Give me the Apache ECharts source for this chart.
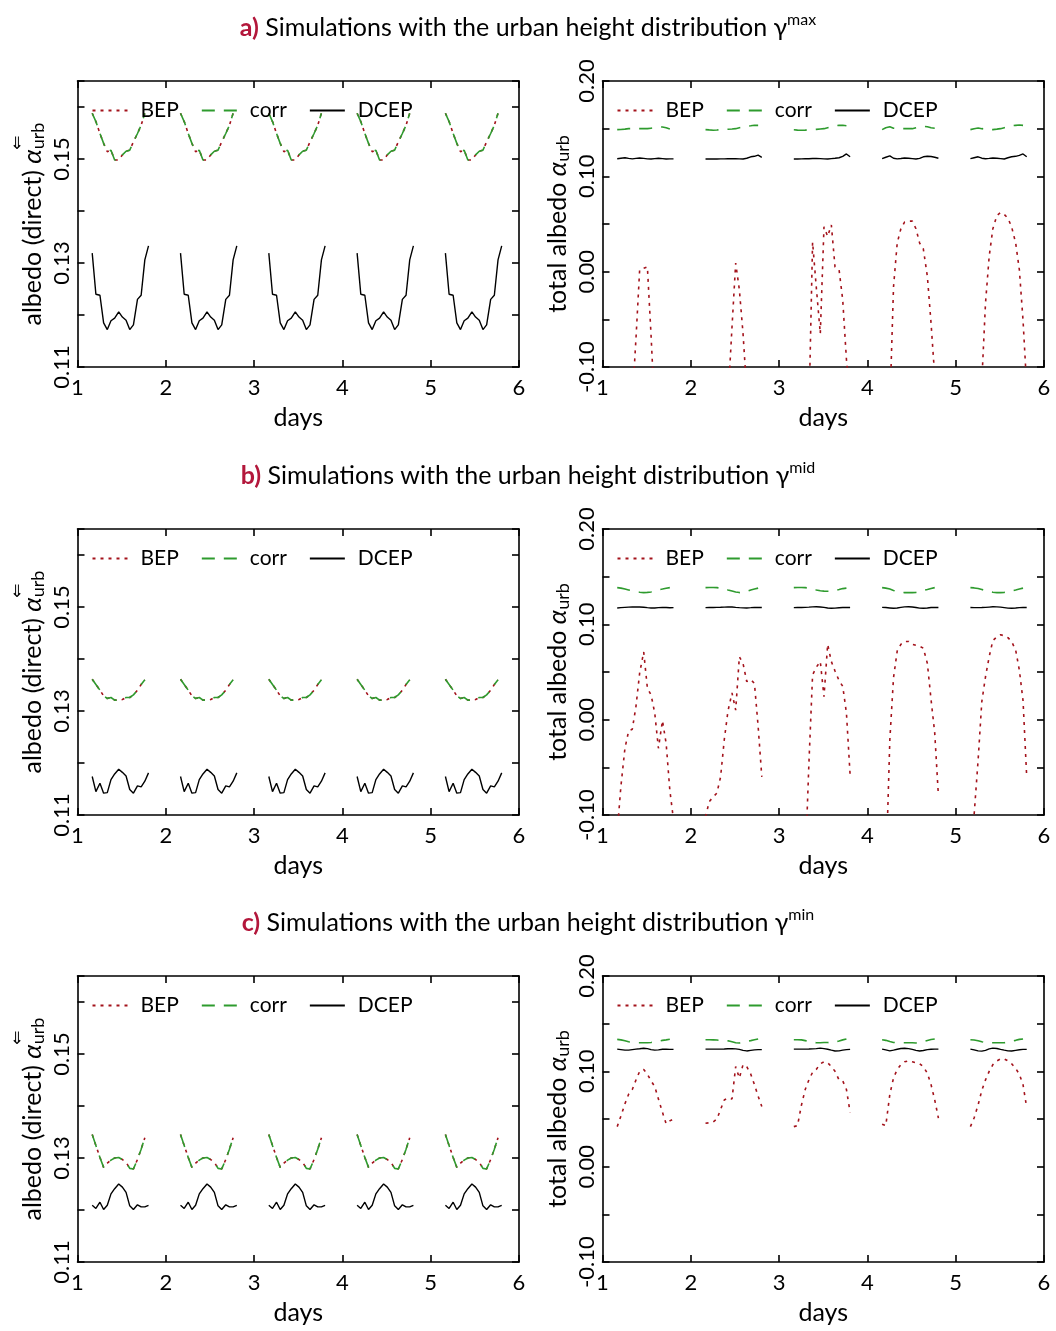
<!DOCTYPE html>
<html>
<head>
<meta charset="utf-8">
<script src="https://cdn.jsdelivr.net/npm/echarts@6/dist/echarts.min.js"></script>
<style>
  html, body { margin: 0; padding: 0; background: #fff; }
  #chart { width: 1056px; height: 1331px; }
</style>
</head>
<body>
<div id="chart"></div>
<script>
// time of day (h) of the hourly model outputs, and the simulated days
var HOURS = [4.0, 5.0, 6.1, 7.1, 8.1, 9.1, 10.1, 11.2, 12.2, 13.2, 14.2, 15.2, 16.3, 17.3, 18.3, 19.3];
var DAYS = [1, 2, 3, 4, 5];
var SERIES_NAMES = ['BEP', 'corr', 'DCEP'];
var DIRECT_LABELS = [0.11, 0.13, 0.15];
var TOTAL_LABELS = [-0.10, 0.00, 0.10, 0.20];
var ROW_TITLES = [['a)', 'max'], ['b)', 'mid'], ['c)', 'min']];

// direct albedo: one daily cycle, the five days look the same (BEP lies under corr)
var dirMaxCorr = [0.1588, 0.1572, 0.1549, 0.1530, 0.1514, 0.1517, 0.1498, 0.1498, 0.1508, 0.1515, 0.1517, 0.1533, 0.1549, 0.1565, 0.1588];
var dirMaxDcep = [0.1319, 0.1240, 0.1238, 0.1185, 0.1172, 0.1189, 0.1194, 0.1206, 0.1196, 0.1190, 0.1172, 0.1181, 0.1230, 0.1238, 0.1306, 0.1333];
var dirMidCorr = [0.1361, 0.1351, 0.1340, 0.1329, 0.1324, 0.1326, 0.1321, 0.1321, 0.1322, 0.1326, 0.1326, 0.1331, 0.1340, 0.1351, 0.1360];
var dirMidDcep = [0.1174, 0.1145, 0.1161, 0.1142, 0.1143, 0.1168, 0.1179, 0.1188, 0.1182, 0.1175, 0.1149, 0.1142, 0.1156, 0.1154, 0.1165, 0.1181];
var dirMinCorr = [0.1345, 0.1324, 0.1301, 0.1282, 0.1290, 0.1296, 0.1300, 0.1301, 0.1297, 0.1292, 0.1280, 0.1279, 0.1297, 0.1317, 0.1339];
var dirMinDcep = [0.1209, 0.1203, 0.1215, 0.1201, 0.1209, 0.1231, 0.1241, 0.1250, 0.1244, 0.1234, 0.1208, 0.1201, 0.1210, 0.1206, 0.1206, 0.1209];

// total albedo, per day (null = far below the axis)
var totMaxBep = [
  [null, null, null, null, -0.136, -0.070, 0.002, 0.0035, 0.005, -0.067, -0.147, null, null, null, null, null],
  [null, null, null, null, null, null, -0.135, -0.058, 0.009, -0.019, -0.065, -0.126, null, null, null, null],
  [null, null, null, null, -0.149, 0.031, -0.016, -0.065, 0.047, 0.037, 0.049, 0.005, 0.002, -0.030, -0.092, -0.130],
  [null, null, -0.142, -0.016, 0.030, 0.045, 0.052, 0.053, 0.053, 0.045, 0.030, 0.024, -0.005, -0.054, -0.110, null],
  [null, null, null, -0.115, -0.033, 0.016, 0.045, 0.059, 0.062, 0.060, 0.056, 0.047, 0.030, 0.002, -0.051, -0.121]
];
var totMaxCorr = [
  [0.1490, 0.1492, 0.1495, 0.1500, 0.1500, 0.1500, 0.1500, 0.1500, 0.1500, 0.1505, 0.1510, 0.1515, 0.1518, 0.1510, 0.1497],
  [0.1490, 0.1487, 0.1484, 0.1486, 0.1490, 0.1492, 0.1494, 0.1497, 0.1500, 0.1510, 0.1520, 0.1525, 0.1530, 0.1535, 0.1535],
  [0.1488, 0.1485, 0.1484, 0.1485, 0.1488, 0.1490, 0.1493, 0.1497, 0.1500, 0.1510, 0.1520, 0.1530, 0.1535, 0.1535, 0.1530],
  [0.1490, 0.1510, 0.1520, 0.1505, 0.1500, 0.1500, 0.1500, 0.1500, 0.1500, 0.1510, 0.1520, 0.1525, 0.1520, 0.1510, 0.1505],
  [0.1490, 0.1500, 0.1507, 0.1500, 0.1495, 0.1490, 0.1490, 0.1495, 0.1500, 0.1510, 0.1520, 0.1530, 0.1535, 0.1538, 0.1535]
];
var totMaxDcep = [
  [0.1185, 0.1190, 0.1195, 0.1188, 0.1183, 0.1188, 0.1192, 0.1188, 0.1183, 0.1182, 0.1186, 0.1190, 0.1186, 0.1182, 0.1183, 0.1183],
  [0.1182, 0.1182, 0.1182, 0.1182, 0.1183, 0.1183, 0.1184, 0.1184, 0.1185, 0.1183, 0.1182, 0.1190, 0.1205, 0.1210, 0.1222, 0.1198],
  [0.1182, 0.1182, 0.1183, 0.1184, 0.1185, 0.1187, 0.1188, 0.1186, 0.1183, 0.1182, 0.1186, 0.1190, 0.1195, 0.1210, 0.1235, 0.1205],
  [0.1185, 0.1200, 0.1215, 0.1190, 0.1183, 0.1187, 0.1192, 0.1190, 0.1186, 0.1182, 0.1188, 0.1205, 0.1210, 0.1208, 0.1200, 0.1190],
  [0.1185, 0.1195, 0.1205, 0.1190, 0.1185, 0.1188, 0.1192, 0.1190, 0.1186, 0.1182, 0.1195, 0.1205, 0.1210, 0.1220, 0.1235, 0.1205]
];
var totMidBep = [
  [-0.118, -0.070, -0.030, -0.012, -0.010, 0.014, 0.049, 0.071, 0.033, 0.026, 0.007, -0.030, -0.001, -0.025, -0.074, -0.105],
  [-0.102, -0.086, -0.081, -0.077, -0.060, -0.021, 0.009, 0.028, 0.010, 0.066, 0.059, 0.040, 0.042, 0.038, -0.007, -0.060],
  [null, null, null, -0.153, -0.046, 0.047, 0.055, 0.061, 0.024, 0.079, 0.061, 0.051, 0.041, 0.035, 0.007, -0.058],
  [null, -0.165, -0.021, 0.044, 0.072, 0.079, 0.082, 0.082, 0.079, 0.078, 0.077, 0.075, 0.059, 0.021, -0.014, -0.080],
  [-0.141, -0.100, -0.042, 0.019, 0.045, 0.066, 0.083, 0.087, 0.089, 0.088, 0.086, 0.082, 0.073, 0.052, 0.020, -0.060]
];
var totMidCorr = [
  [0.1385, 0.1380, 0.1370, 0.1360, 0.1350, 0.1343, 0.1337, 0.1333, 0.1335, 0.1340, 0.1350, 0.1362, 0.1370, 0.1378, 0.1385],
  [0.1385, 0.1387, 0.1387, 0.1385, 0.1380, 0.1370, 0.1360, 0.1350, 0.1340, 0.1333, 0.1332, 0.1345, 0.1360, 0.1370, 0.1380],
  [0.1385, 0.1387, 0.1387, 0.1385, 0.1380, 0.1370, 0.1360, 0.1352, 0.1348, 0.1347, 0.1348, 0.1355, 0.1365, 0.1375, 0.1380],
  [0.1385, 0.1380, 0.1370, 0.1355, 0.1343, 0.1335, 0.1333, 0.1333, 0.1333, 0.1335, 0.1345, 0.1355, 0.1365, 0.1375, 0.1385],
  [0.1385, 0.1382, 0.1375, 0.1365, 0.1355, 0.1345, 0.1337, 0.1333, 0.1333, 0.1335, 0.1340, 0.1350, 0.1360, 0.1370, 0.1380]
];
var totMidDcep = [
  [0.1172, 0.1175, 0.1178, 0.1180, 0.1182, 0.1183, 0.1182, 0.1179, 0.1175, 0.1172, 0.1172, 0.1175, 0.1178, 0.1176, 0.1174, 0.1175],
  [0.1175, 0.1176, 0.1177, 0.1178, 0.1179, 0.1181, 0.1183, 0.1182, 0.1178, 0.1175, 0.1173, 0.1172, 0.1175, 0.1178, 0.1177, 0.1176],
  [0.1175, 0.1176, 0.1177, 0.1178, 0.1180, 0.1183, 0.1185, 0.1182, 0.1178, 0.1172, 0.1169, 0.1170, 0.1174, 0.1176, 0.1176, 0.1177],
  [0.1178, 0.1176, 0.1172, 0.1168, 0.1172, 0.1178, 0.1183, 0.1185, 0.1182, 0.1176, 0.1170, 0.1168, 0.1172, 0.1176, 0.1177, 0.1177],
  [0.1176, 0.1175, 0.1175, 0.1176, 0.1178, 0.1181, 0.1184, 0.1183, 0.1180, 0.1175, 0.1170, 0.1169, 0.1172, 0.1175, 0.1176, 0.1177]
];
var totMinBep = [
  [0.042, 0.053, 0.066, 0.076, 0.081, 0.091, 0.100, 0.102, 0.097, 0.090, 0.084, 0.071, 0.057, 0.045, 0.048, 0.050],
  [0.0455, 0.046, 0.047, 0.050, 0.060, 0.070, 0.072, 0.071, 0.105, 0.093, 0.107, 0.105, 0.097, 0.086, 0.074, 0.063],
  [0.042, 0.043, 0.065, 0.081, 0.091, 0.099, 0.102, 0.108, 0.110, 0.109, 0.105, 0.100, 0.091, 0.090, 0.081, 0.057],
  [0.0445, 0.043, 0.076, 0.093, 0.102, 0.107, 0.110, 0.111, 0.110, 0.109, 0.108, 0.105, 0.098, 0.086, 0.070, 0.051],
  [0.042, 0.051, 0.065, 0.080, 0.091, 0.100, 0.107, 0.111, 0.113, 0.113, 0.111, 0.108, 0.103, 0.097, 0.086, 0.062]
];
var totMinCorr = [
  [0.1335, 0.1330, 0.1320, 0.1310, 0.1305, 0.1300, 0.1300, 0.1300, 0.1300, 0.1303, 0.1310, 0.1317, 0.1325, 0.1330, 0.1337],
  [0.1332, 0.1332, 0.1330, 0.1328, 0.1325, 0.1322, 0.1320, 0.1310, 0.1300, 0.1297, 0.1303, 0.1313, 0.1322, 0.1332, 0.1340],
  [0.1332, 0.1332, 0.1330, 0.1322, 0.1312, 0.1305, 0.1300, 0.1300, 0.1302, 0.1302, 0.1298, 0.1305, 0.1318, 0.1330, 0.1340],
  [0.1332, 0.1325, 0.1312, 0.1303, 0.1300, 0.1300, 0.1300, 0.1300, 0.1300, 0.1298, 0.1302, 0.1312, 0.1323, 0.1333, 0.1340],
  [0.1332, 0.1328, 0.1320, 0.1310, 0.1302, 0.1300, 0.1300, 0.1300, 0.1300, 0.1300, 0.1305, 0.1315, 0.1325, 0.1335, 0.1340]
];
var totMinDcep = [
  [0.1233, 0.1228, 0.1222, 0.1222, 0.1228, 0.1233, 0.1237, 0.1242, 0.1238, 0.1228, 0.1222, 0.1225, 0.1232, 0.1232, 0.1230, 0.1230],
  [0.1233, 0.1233, 0.1233, 0.1233, 0.1233, 0.1234, 0.1237, 0.1238, 0.1236, 0.1230, 0.1220, 0.1214, 0.1220, 0.1225, 0.1228, 0.1228],
  [0.1233, 0.1233, 0.1233, 0.1233, 0.1234, 0.1236, 0.1238, 0.1243, 0.1238, 0.1232, 0.1222, 0.1213, 0.1215, 0.1222, 0.1228, 0.1230],
  [0.1233, 0.1225, 0.1215, 0.1222, 0.1232, 0.1240, 0.1242, 0.1238, 0.1230, 0.1220, 0.1213, 0.1218, 0.1228, 0.1232, 0.1233, 0.1233],
  [0.1233, 0.1225, 0.1215, 0.1212, 0.1220, 0.1235, 0.1243, 0.1240, 0.1230, 0.1222, 0.1215, 0.1213, 0.1220, 0.1226, 0.1230, 0.1230]
];

var FONT = 'Lato';
var COLORS = { BEP: '#a3121b', corr: '#2e9b2e', DCEP: '#000000' };
var DASHES = { BEP: [3, 5], corr: [13, 9], DCEP: 'solid' };
var ROW_TOP = [81, 529, 976];
var GRID_H = 286;
var COLS = [{ left: 77.5, width: 441.5 }, { left: 602.5, width: 441.5 }];

// same cycle for every day
function everyDay(cycle) {
  return DAYS.map(function () { return cycle; });
}

function toLine(days) {
  var out = [];
  days.forEach(function (vals, d) {
    vals.forEach(function (v, i) {
      out.push([DAYS[d] + HOURS[i] / 24, v]);
    });
    out.push([DAYS[d] + 0.95, null]);
  });
  return out;
}

var PANELS = [
  { row: 0, col: 0, BEP: everyDay(dirMaxCorr), corr: everyDay(dirMaxCorr), DCEP: everyDay(dirMaxDcep) },
  { row: 0, col: 1, BEP: totMaxBep, corr: totMaxCorr, DCEP: totMaxDcep },
  { row: 1, col: 0, BEP: everyDay(dirMidCorr), corr: everyDay(dirMidCorr), DCEP: everyDay(dirMidDcep) },
  { row: 1, col: 1, BEP: totMidBep, corr: totMidCorr, DCEP: totMidDcep },
  { row: 2, col: 0, BEP: everyDay(dirMinCorr), corr: everyDay(dirMinCorr), DCEP: everyDay(dirMinDcep) },
  { row: 2, col: 1, BEP: totMinBep, corr: totMinCorr, DCEP: totMinDcep }
];

var grids = [], xAxes = [], yAxes = [], series = [], legends = [], titles = [], graphics = [];
var frame = { onZero: false, lineStyle: { color: '#000', width: 1.6 } };
var ticks = { inside: true, length: 7, lineStyle: { color: '#000', width: 1.6 } };
var nameRich = {
  t: { fontFamily: FONT, fontSize: 25, color: '#000' },
  a: { fontFamily: FONT, fontSize: 26, fontStyle: 'italic', color: '#000' },
  s: { fontFamily: FONT, fontSize: 18, color: '#000', padding: [12, 0, 0, 0] }
};

PANELS.forEach(function (pn, p) {
  var top = ROW_TOP[pn.row], col = COLS[pn.col];
  var direct = pn.col === 0;
  grids.push({ left: col.left, top: top, width: col.width, height: GRID_H });

  xAxes.push({
    type: 'value', gridIndex: p, min: 1, max: 6, interval: 1,
    axisLine: frame, axisTick: ticks, splitLine: { show: false },
    axisLabel: { color: '#000', fontSize: 22, fontFamily: FONT, margin: 10, showMinLabel: true, showMaxLabel: true },
    name: 'days', nameLocation: 'middle', nameGap: 38,
    nameTextStyle: { color: '#000', fontSize: 25, fontFamily: FONT }
  });
  xAxes.push({
    type: 'value', gridIndex: p, position: 'top', min: 1, max: 6, interval: 1,
    axisLine: frame, axisTick: ticks, splitLine: { show: false }, axisLabel: { show: false }
  });

  var labels = direct ? DIRECT_LABELS : TOTAL_LABELS;
  var yBase = direct ? { min: 0.11, max: 0.165, interval: 0.01 } : { min: -0.10, max: 0.20, interval: 0.05 };
  yAxes.push(Object.assign({
    type: 'value', gridIndex: p,
    axisLine: frame, axisTick: ticks, splitLine: { show: false },
    axisLabel: {
      color: '#000', fontSize: 22, fontFamily: FONT, rotate: 90, margin: 5,
      showMinLabel: true, showMaxLabel: true,
      formatter: function (v) {
        for (var k = 0; k < labels.length; k++) {
          if (Math.abs(labels[k] - v) < 1e-6) return labels[k].toFixed(2);
        }
        return '';
      }
    },
    name: direct ? '{t|albedo (direct) }{a|α}{s|urb}' : '{t|total albedo }{a|α}{s|urb}',
    nameLocation: 'middle', nameRotate: 90, nameGap: 30,
    nameTextStyle: { rich: nameRich }
  }, yBase));
  yAxes.push(Object.assign({
    type: 'value', gridIndex: p, position: 'right',
    axisLine: frame, axisTick: ticks, splitLine: { show: false }, axisLabel: { show: false }
  }, yBase));

  SERIES_NAMES.forEach(function (nm) {
    series.push({
      type: 'line', name: nm, xAxisIndex: 2 * p, yAxisIndex: 2 * p,
      data: toLine(pn[nm]), symbol: 'none', showSymbol: false, silent: true,
      clip: true, connectNulls: false,
      lineStyle: { color: COLORS[nm], width: nm === 'DCEP' ? 1.4 : 1.6, type: DASHES[nm], cap: 'butt' },
      itemStyle: { color: COLORS[nm] }
    });
  });

  legends.push({
    data: SERIES_NAMES, selectedMode: false, padding: 0,
    left: col.left + 14, top: top + 19,
    itemWidth: 35, itemHeight: 12, itemGap: 22,
    itemStyle: { opacity: 0 },
    textStyle: { color: '#000', fontSize: 21, fontFamily: FONT, padding: [0, 0, 0, 8] }
  });

  if (direct) {
    // double arrow over the subscript of the direct-albedo symbol
    graphics.push({
      type: 'text', left: 10, top: top + 55,
      style: { text: '⇓', fontSize: 17, fontFamily: 'DejaVu Sans', fill: '#000' }
    });
  }
});

ROW_TITLES.forEach(function (t, r) {
  titles.push({
    text: '{r|' + t[0] + '} Simulations with the urban height distribution γ{sup|' + t[1] + '}',
    left: 'center', top: ROW_TOP[r] - 74,
    textStyle: {
      fontFamily: FONT, fontSize: 25, fontWeight: 'normal', color: '#000',
      rich: {
        r: { fontFamily: FONT, fontSize: 25, fontWeight: 'bold', color: '#b3173b' },
        sup: { fontFamily: FONT, fontSize: 16, color: '#000', padding: [0, 0, 15, 0] }
      }
    }
  });
});

var chart = echarts.init(document.getElementById('chart'), null, { renderer: 'canvas' });
chart.setOption({
  animation: false,
  backgroundColor: '#fff',
  textStyle: { fontFamily: FONT },
  title: titles,
  grid: grids,
  xAxis: xAxes,
  yAxis: yAxes,
  legend: legends,
  series: series,
  graphic: graphics
});
</script>
</body>
</html>
